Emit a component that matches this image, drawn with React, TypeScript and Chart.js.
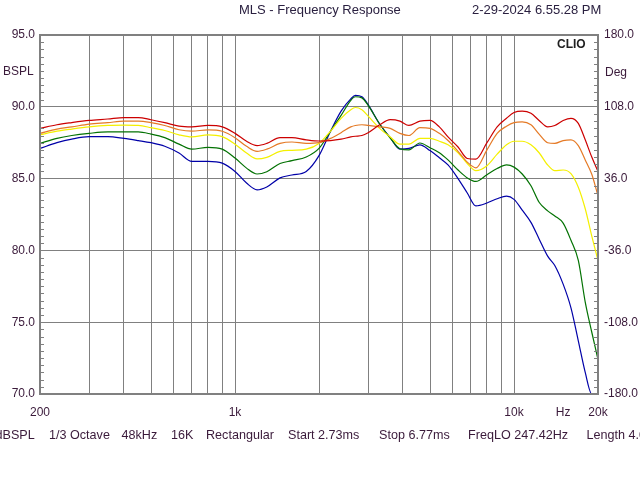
import { useEffect, useRef } from "react";
import { Chart, registerables } from "chart.js";

Chart.register(...registerables);

// frequency points (Hz) shared by every curve
const freqs = [
  200, 230, 260, 300, 350, 400, 450, 500, 560, 630,
  700, 800, 900, 1000, 1100, 1200, 1300, 1450, 1600, 1800,
  2000, 2200, 2400, 2600, 2700, 2850, 3000, 3300, 3600, 3900,
  4200, 4600, 5000, 5400, 5800, 6300, 6800, 7300, 8000, 8700,
  9400, 10000, 10700, 11500, 12300, 13200, 14000, 15000, 16000, 17000,
  18000, 19000, 20000,
];

// dBSPL curves
const red = [
  88.5, 88.75, 88.9, 89.05, 89.15, 89.25, 89.25, 89.1, 88.9, 88.65,
  88.6, 88.7, 88.6, 88.15, 87.6, 87.3, 87.45, 87.85, 87.85, 87.7,
  87.62, 87.65, 87.75, 87.9, 87.95, 88.0, 88.2, 88.75, 89.1, 89.0,
  88.7, 89.0, 89.05, 88.6, 87.9, 87.2, 86.4, 86.35, 87.5, 88.6,
  89.2, 89.6, 89.7, 89.55, 89.05, 88.6, 88.7, 89.05, 89.2, 88.85,
  87.7, 86.5, 85.5,
];
const orange = [
  88.15, 88.45, 88.6, 88.8, 88.9, 89.0, 89.0, 88.9, 88.7, 88.4,
  88.3, 88.4, 88.3, 87.85, 87.25, 86.9, 87.05, 87.45, 87.55, 87.45,
  87.5, 87.8, 88.2, 88.6, 88.7, 88.75, 88.7, 88.6, 88.5, 88.15,
  88.0, 88.55, 88.5, 88.15, 87.65, 86.9, 86.15, 85.75, 87.0, 88.15,
  88.65, 88.9, 88.95, 88.75, 88.1, 87.5, 87.45, 87.65, 87.7, 87.3,
  86.3, 85.3, 83.8,
];
const yellow = [
  88.05, 88.3, 88.45, 88.6, 88.7, 88.72, 88.7, 88.55, 88.35, 88.05,
  87.9, 88.05, 87.92, 87.4, 86.78, 86.37, 86.48, 86.9, 86.97, 87.05,
  87.45, 88.3, 89.2, 89.8, 89.95, 89.8, 89.35, 88.5, 87.9, 87.4,
  87.4, 87.8, 87.8, 87.6, 87.35, 86.8, 86.05, 85.55, 85.9, 86.7,
  87.35, 87.6, 87.6, 87.35, 86.8, 85.95, 85.55, 85.6, 85.35, 84.4,
  82.9, 81.0, 79.3,
];
const green = [
  87.45, 87.8, 88.0, 88.15, 88.25, 88.25, 88.25, 88.1, 87.85, 87.4,
  87.05, 87.18, 87.05, 86.43, 85.73, 85.32, 85.48, 86.05, 86.25, 86.5,
  87.1, 88.3, 89.4, 90.45, 90.7, 90.62, 90.1, 88.8, 87.82, 87.08,
  87.0, 87.48, 87.15, 86.8, 86.3, 85.6, 85.05, 84.8, 85.27, 85.7,
  85.95, 85.8, 85.32, 84.5, 83.35, 82.75, 82.4, 81.9, 80.7, 79.3,
  76.4, 74.3, 72.4,
];
const blue = [
  87.1, 87.5, 87.75, 87.92, 87.92, 87.8, 87.65, 87.5, 87.25, 86.78,
  86.2, 86.2, 86.08, 85.5, 84.69, 84.22, 84.42, 85.05, 85.25, 85.5,
  86.6, 88.3, 89.7, 90.55, 90.8, 90.7, 90.15, 88.8, 87.85, 87.05,
  87.1, 87.35, 86.95, 86.45, 85.95, 85.0, 84.0, 83.1, 83.3, 83.6,
  83.78, 83.55, 82.8, 81.95, 80.8, 79.6, 78.95, 77.65, 76.0, 73.7,
  71.5, 70.0, 70.0,
];

// axes
const xGrid = [
  200, 300, 400, 500, 600, 700, 800, 900, 1000,
  2000, 3000, 4000, 5000, 6000, 7000, 8000, 9000, 10000, 15000, 20000,
];
const xLabelAt = [200, 1000, 10000, 15000, 20000];
const xLabelText = ["200", "1k", "10k", "Hz", "20k"];
const splTicks = [70, 75, 80, 85, 90, 95];
const phaseTicks = [-180, -108, -36, 36, 108, 180];
const splMinorStep = 0.5;

const footerText = [
  "dBSPL", "1/3 Octave", "48kHz", "16K", "Rectangular",
  "Start 2.73ms", "Stop 6.77ms", "FreqLO 247.42Hz", "Length 4.04ms",
];
const footerLeft = [-4.5, 49, 121.5, 171, 206, 288, 379, 468, 586.5];

const GRID = "#808080";
const LABEL = "#3a1a3a";
const FONT = "'Liberation Sans', Arial, sans-serif";

const framePlugin = {
  id: "frame",
  afterDraw(chart: any) {
    const { ctx, chartArea: a, scales } = chart;
    const y = scales.y;
    ctx.save();
    ctx.strokeStyle = GRID;
    ctx.lineWidth = 1;
    ctx.beginPath();
    for (let v = y.min; v <= y.max; v += splMinorStep) {
      if (v % 5 === 0) continue;
      const py = Math.round(y.getPixelForValue(v)) + 0.5;
      ctx.moveTo(a.left, py);
      ctx.lineTo(a.left + 4, py);
      ctx.moveTo(a.right - 4, py);
      ctx.lineTo(a.right, py);
    }
    ctx.stroke();
    ctx.lineWidth = 2;
    ctx.strokeRect(a.left, a.top, a.right - a.left, a.bottom - a.top);
    ctx.restore();
  },
};

const series: [number[], string][] = [
  [red, "#cc0000"],
  [orange, "#e57a26"],
  [yellow, "#f4f000"],
  [green, "#037203"],
  [blue, "#0000a8"],
];

export default function App() {
  const canvasRef = useRef<HTMLCanvasElement>(null);

  useEffect(() => {
    if (!canvasRef.current) return;
    Chart.defaults.font.family = FONT;
    Chart.defaults.font.size = 12;
    Chart.defaults.color = LABEL;

    const chart = new Chart(canvasRef.current, {
      type: "line",
      data: {
        datasets: series.map(([vals, color]) => ({
          data: freqs.map((f, i) => ({ x: f, y: vals[i] })),
          borderColor: color,
          borderWidth: 1.2,
          pointRadius: 0,
          cubicInterpolationMode: "monotone" as const,
          yAxisID: "y",
        })),
      },
      options: {
        responsive: false,
        animation: false,
        layout: { padding: { top: 35, left: 0, right: 0, bottom: 0 } },
        plugins: {
          legend: { display: false },
          tooltip: { enabled: false },
        },
        scales: {
          x: {
            type: "logarithmic",
            min: 200,
            max: 20000,
            afterBuildTicks: (s: any) => {
              s.ticks = xGrid.map((value) => ({ value }));
            },
            afterFit: (s: any) => {
              s.height = 86;
            },
            ticks: {
              autoSkip: false,
              maxRotation: 0,
              padding: 11,
              callback: (v: any) => {
                const i = xLabelAt.indexOf(Number(v));
                return i >= 0 ? xLabelText[i] : "";
              },
            },
            grid: {
              drawTicks: false,
              color: (c: any) =>
                c.tick && c.tick.value === 15000 ? "rgba(0,0,0,0)" : GRID,
            },
            border: { color: GRID, width: 2 },
          },
          y: {
            position: "left",
            min: 70,
            max: 95,
            afterBuildTicks: (s: any) => {
              s.ticks = splTicks.map((value) => ({ value }));
            },
            afterFit: (s: any) => {
              s.width = 40;
            },
            ticks: {
              padding: 5,
              callback: (v: any) => Number(v).toFixed(1),
            },
            grid: { drawTicks: false, color: GRID },
            border: { color: GRID, width: 2 },
          },
          y1: {
            position: "right",
            min: -180,
            max: 180,
            afterBuildTicks: (s: any) => {
              s.ticks = phaseTicks.map((value) => ({ value }));
            },
            afterFit: (s: any) => {
              s.width = 42;
            },
            ticks: {
              padding: 6,
              callback: (v: any) => Number(v).toFixed(1),
            },
            grid: { drawTicks: false, drawOnChartArea: false },
            border: { color: GRID, width: 2 },
          },
        },
      },
      plugins: [framePlugin],
    });

    return () => {
      chart.destroy();
    };
  }, []);

  const text = (size: number, bold = false): React.CSSProperties => ({
    position: "absolute",
    fontFamily: FONT,
    fontSize: size,
    fontWeight: bold ? "bold" : "normal",
    lineHeight: "14px",
    whiteSpace: "nowrap",
    color: LABEL,
  });

  return (
    <div
      style={{
        position: "absolute",
        left: 0,
        top: 0,
        width: 640,
        height: 480,
        overflow: "hidden",
        background: "#ffffff",
      }}
    >
      <canvas ref={canvasRef} width={640} height={480} style={{ display: "block" }} />
      <div style={{ ...text(13), left: 239, top: 3, color: "#2a2040" }}>MLS - Frequency Response</div>
      <div style={{ ...text(13), left: 472, top: 3, color: "#2a2040" }}>2-29-2024 6.55.28 PM</div>
      <div style={{ ...text(12, true), left: 557, top: 37, color: "#202020" }}>CLIO</div>
      <div style={{ ...text(12), left: 3, top: 64 }}>BSPL</div>
      <div style={{ ...text(12), left: 605, top: 65 }}>Deg</div>
      {footerText.map((t, i) => (
        <div key={t} style={{ ...text(12.6), left: footerLeft[i], top: 428 }}>
          {t}
        </div>
      ))}
    </div>
  );
}
